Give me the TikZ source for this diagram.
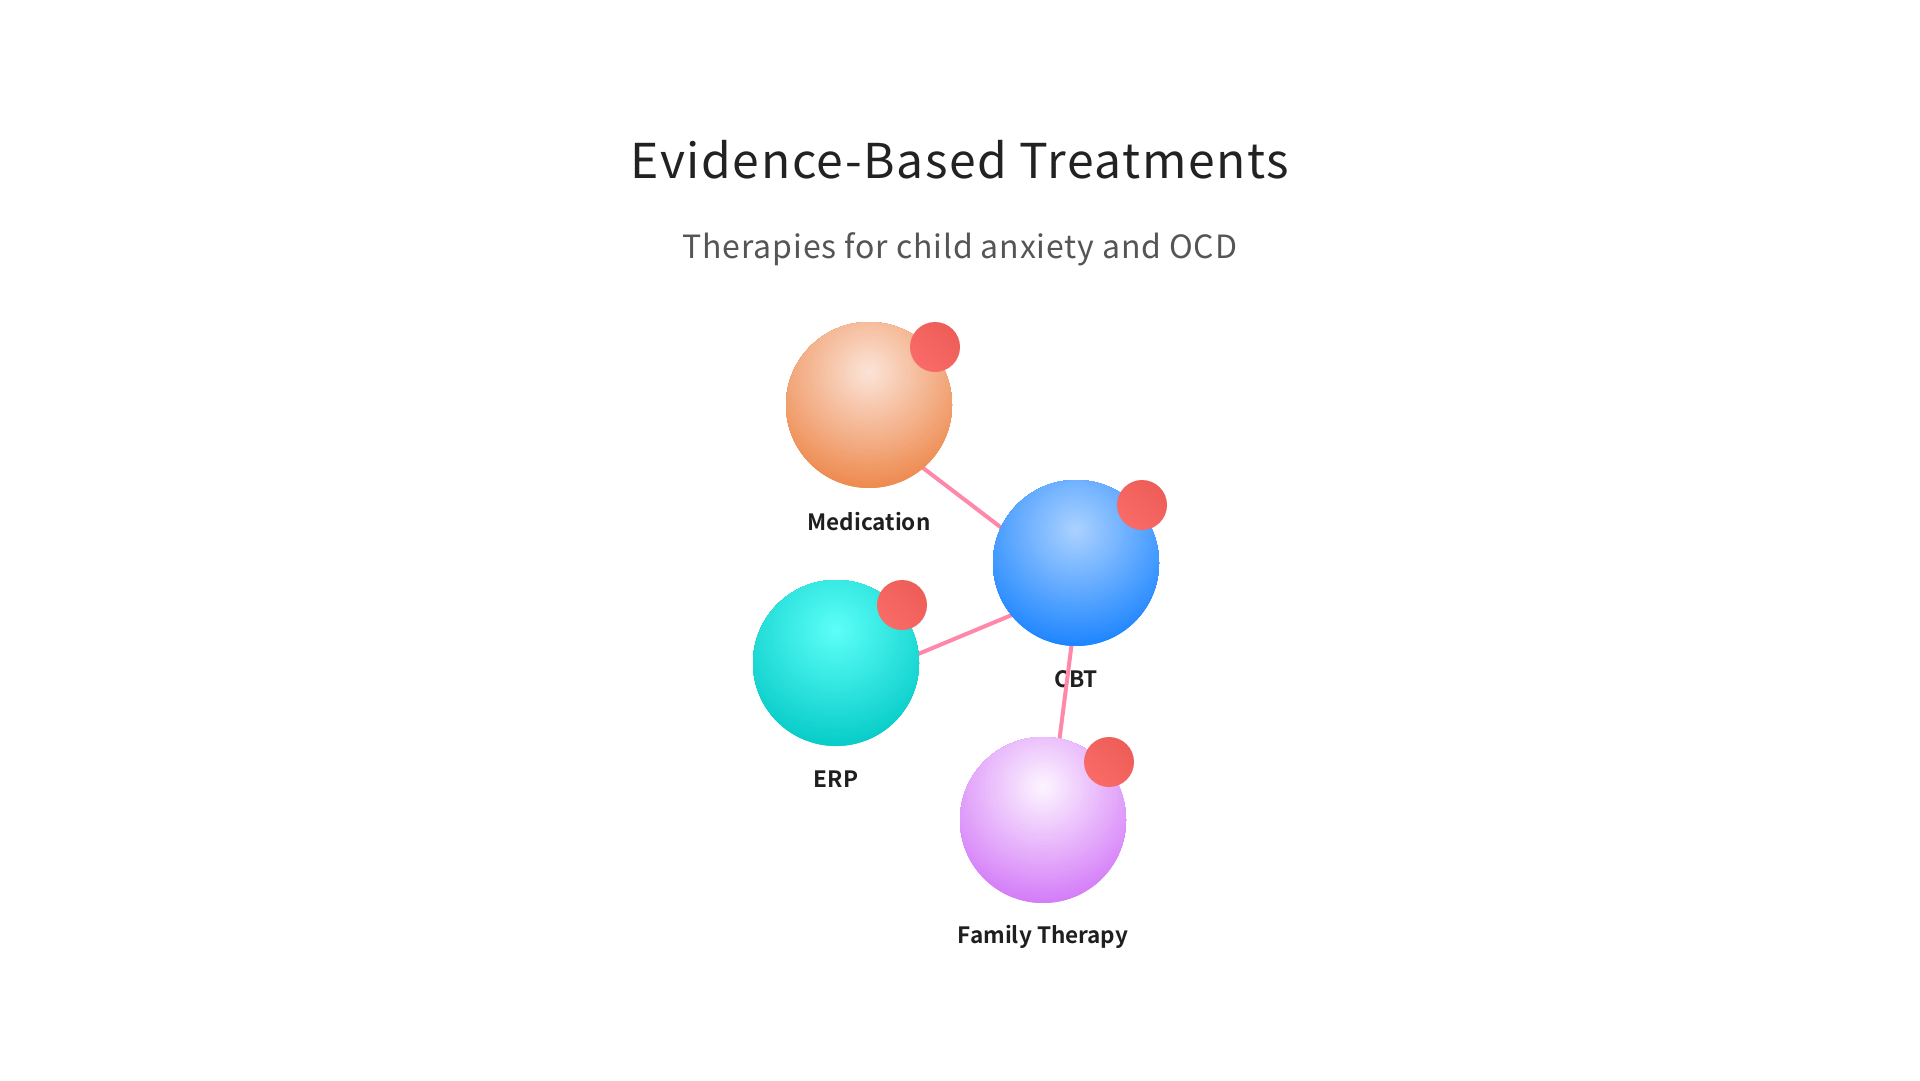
\documentclass[tikz,border=0pt]{standalone}
\usepackage{fontspec}
\setmainfont{Noto Sans CJK SC}[BoldFont={Noto Sans CJK SC Bold}]
\newfontfamily\titlefont{Noto Sans CJK SC}[LetterSpace=3.3]
\newfontfamily\subfont{Noto Sans CJK SC}[LetterSpace=2.6]
\definecolor{titlecol}{HTML}{222222}
\definecolor{subcol}{HTML}{555555}
\definecolor{labcol}{HTML}{1F1F1F}
\definecolor{linkcol}{HTML}{FF88AA}
\definecolor{dotA}{HTML}{F96B67}
\definecolor{dotB}{HTML}{EE5D58}
\definecolor{medA}{HTML}{FBE4D8}
\definecolor{medE}{HTML}{EE8A4E}
\definecolor{cbtA}{HTML}{ACD2FF}
\definecolor{cbtE}{HTML}{1E86FF}
\definecolor{erpA}{HTML}{5DFFF9}
\definecolor{erpE}{HTML}{08CCC8}
\definecolor{famA}{HTML}{FDF5FF}
\definecolor{famE}{HTML}{D47CF8}
\tikzset{
  ball/.style 2 args={circle, minimum size=166pt, inner sep=0pt,
    path picture={
      \fill[#2] (path picture bounding box.south west) rectangle (path picture bounding box.north east);
      \foreach \k in {0,...,59}{
        \pgfmathsetmacro\rr{116*(1-\k/60)}
        \pgfmathtruncatemacro\ff{round(100*(1-(\k+0.5)/60))}
        \fill[#2!\ff!#1] ([yshift=33pt]path picture bounding box.center) circle[radius=\rr pt];
      }
    }},
  reddot/.style={circle, minimum size=50pt, inner sep=0pt, left color=dotA, right color=dotB, shading angle=135},
  lab/.style={anchor=base, text=labcol, font=\fontsize{22.5}{26}\selectfont\bfseries},
  link/.style={draw=linkcol, line width=4pt},
}
\begin{document}
\begin{tikzpicture}[x=1pt, y=-1pt]
\useasboundingbox[fill=white] (0,0) rectangle (1920,1080);
\node[anchor=base, text=titlecol, font=\titlefont\fontsize{48}{56}\selectfont] (title) at (960,178) {Evidence-Based Treatments};
\node[anchor=base, text=subcol, font=\subfont\fontsize{32}{38}\selectfont] (subtitle) at (960,258) {Therapies for child anxiety and OCD};
% ball centres
\coordinate (cmed) at (869,405);
\coordinate (ccbt) at (1076,563);
\coordinate (cerp) at (836,663);
\coordinate (cfam) at (1043,820);
% link anchor points
\coordinate (kmed) at ([shift={(3,24)}]cmed);
\coordinate (kcbt) at ([shift={(3,24)}]ccbt);
\coordinate (kerp) at ([shift={(3,24)}]cerp);
\coordinate (kfam) at ([shift={(3,24)}]cfam);
% labels
\node[lab] (lmed) at (869,530) {Medication};
\node[lab] (lcbt) at (1076,687) {CBT};
\node[lab] (lerp) at (836,787) {ERP};
\node[lab] (lfam) at (1043,943) {Family Therapy};
% links
\draw[link] (kmed) -- (kcbt);
\draw[link] (kerp) -- (kcbt);
\draw[link] (kcbt) -- (kfam);
% balls
\node[ball={medA}{medE}] (med) at (cmed) {};
\node[ball={cbtA}{cbtE}] (cbt) at (ccbt) {};
\node[ball={erpA}{erpE}] (erp) at (cerp) {};
\node[ball={famA}{famE}] (fam) at (cfam) {};
% red dots
\node[reddot] (dmed) at ([shift={(66,-58)}]cmed) {};
\node[reddot] (dcbt) at ([shift={(66,-58)}]ccbt) {};
\node[reddot] (derp) at ([shift={(66,-58)}]cerp) {};
\node[reddot] (dfam) at ([shift={(66,-58)}]cfam) {};
\end{tikzpicture}
\end{document}
